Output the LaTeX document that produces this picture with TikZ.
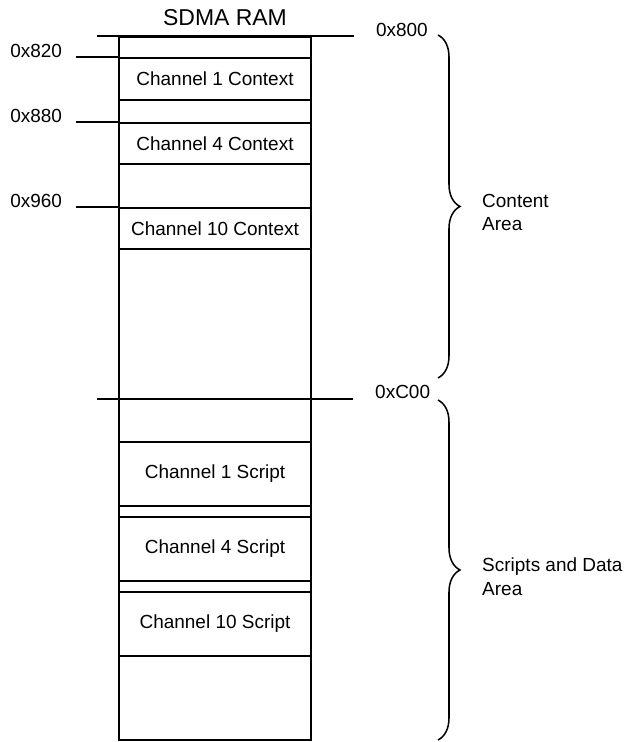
\documentclass[tikz,border=0pt]{standalone}
\usepackage{fontspec}
\setmainfont{Liberation Sans}
\usepackage{tikz}
\usetikzlibrary{calc,decorations.pathreplacing}

\begin{document}
\begin{tikzpicture}[
    slot/.style={draw, line width=1.3pt, fill=white, minimum width=5.76cm, font=\fontsize{16.2}{20.4}\selectfont, inner sep=0pt},
    addr/.style={font=\fontsize{16.2}{20.4}\selectfont, inner sep=0pt},
    ttl/.style={font=\fontsize{19.6}{23}\selectfont, inner sep=0pt},
    area/.style={font=\fontsize{16.2}{20.4}\selectfont, align=left, inner sep=0pt, anchor=west},
    tick/.style={line width=1.3pt},
    membrace/.style={decorate, decoration={brace, amplitude=0.66cm, aspect=0.5}, line width=1.3pt}
]
\useasboundingbox (0,0) rectangle (18.75,22.26);

% ---- RAM column ----
\node[ttl, anchor=base] (ramT) at (6.75,21.48) {SDMA RAM};
\node[draw, line width=1.3pt, minimum width=5.76cm, minimum height=21.09cm, inner sep=0pt] (col) at (6.45,10.605) {};

% ---- Contexts ----
\node[slot, minimum height=1.26cm] (ctx1) at (6.45,19.89) {Channel 1 Context};
\node[slot, minimum height=1.23cm] (ctx4) at (6.45,17.955) {Channel 4 Context};
\node[slot, minimum height=1.23cm] (ctx10) at (6.45,15.405) {Channel 10 Context};

% ---- Scripts ----
\node[slot, minimum height=1.92cm] (scr1) at (6.45,8.04) {Channel 1 Script};
\node[slot, minimum height=1.92cm] (scr4) at (6.45,5.79) {Channel 4 Script};
\node[slot, minimum height=1.92cm] (scr10) at (6.45,3.54) {Channel 10 Script};

% ---- Address ticks ----
\coordinate (t800a) at ([xshift=-0.63cm]col.north west);
\coordinate (t800b) at ([xshift=1.26cm]col.north east);
\draw[tick] (t800a) -- (t800b);
\node[addr, anchor=base west] (l800) at ([xshift=0.66cm]t800b) {0x800};

\coordinate (t820) at ([xshift=-1.26cm]ctx1.north west);
\draw[tick] (ctx1.north west) -- (t820);
\node[addr, anchor=base east] (l820) at ([xshift=-0.42cm]t820) {0x820};

\coordinate (t880) at ([xshift=-1.26cm]ctx4.north west);
\draw[tick] (ctx4.north west) -- (t880);
\node[addr, anchor=base east] (l880) at ([xshift=-0.42cm]t880) {0x880};

\coordinate (t960) at ([xshift=-1.26cm]ctx10.north west);
\draw[tick] (ctx10.north west) -- (t960);
\node[addr, anchor=base east] (l960) at ([xshift=-0.42cm]t960) {0x960};

\coordinate (tC00a) at (2.91,10.29);
\coordinate (tC00b) at (10.59,10.29);
\draw[tick] (tC00a) -- (tC00b);
\node[addr, anchor=base west] (lC00) at ([xshift=0.66cm]tC00b) {0xC00};

% ---- Areas ----
\coordinate (br1a) at (13.14,21.21);
\coordinate (br1b) at (13.14,10.92);
\draw[membrace] (br1a) -- (br1b);
\node[area] (cArea) at ($(br1a)!0.5!(br1b)+(1.32,-0.18)$) {Content\\Area};

\coordinate (br2a) at (13.14,10.26);
\coordinate (br2b) at (13.14,0.06);
\draw[membrace] (br2a) -- (br2b);
\node[area] (sArea) at ($(br2a)!0.5!(br2b)+(1.32,-0.2)$) {Scripts and Data\\Area};
\end{tikzpicture}
\end{document}
